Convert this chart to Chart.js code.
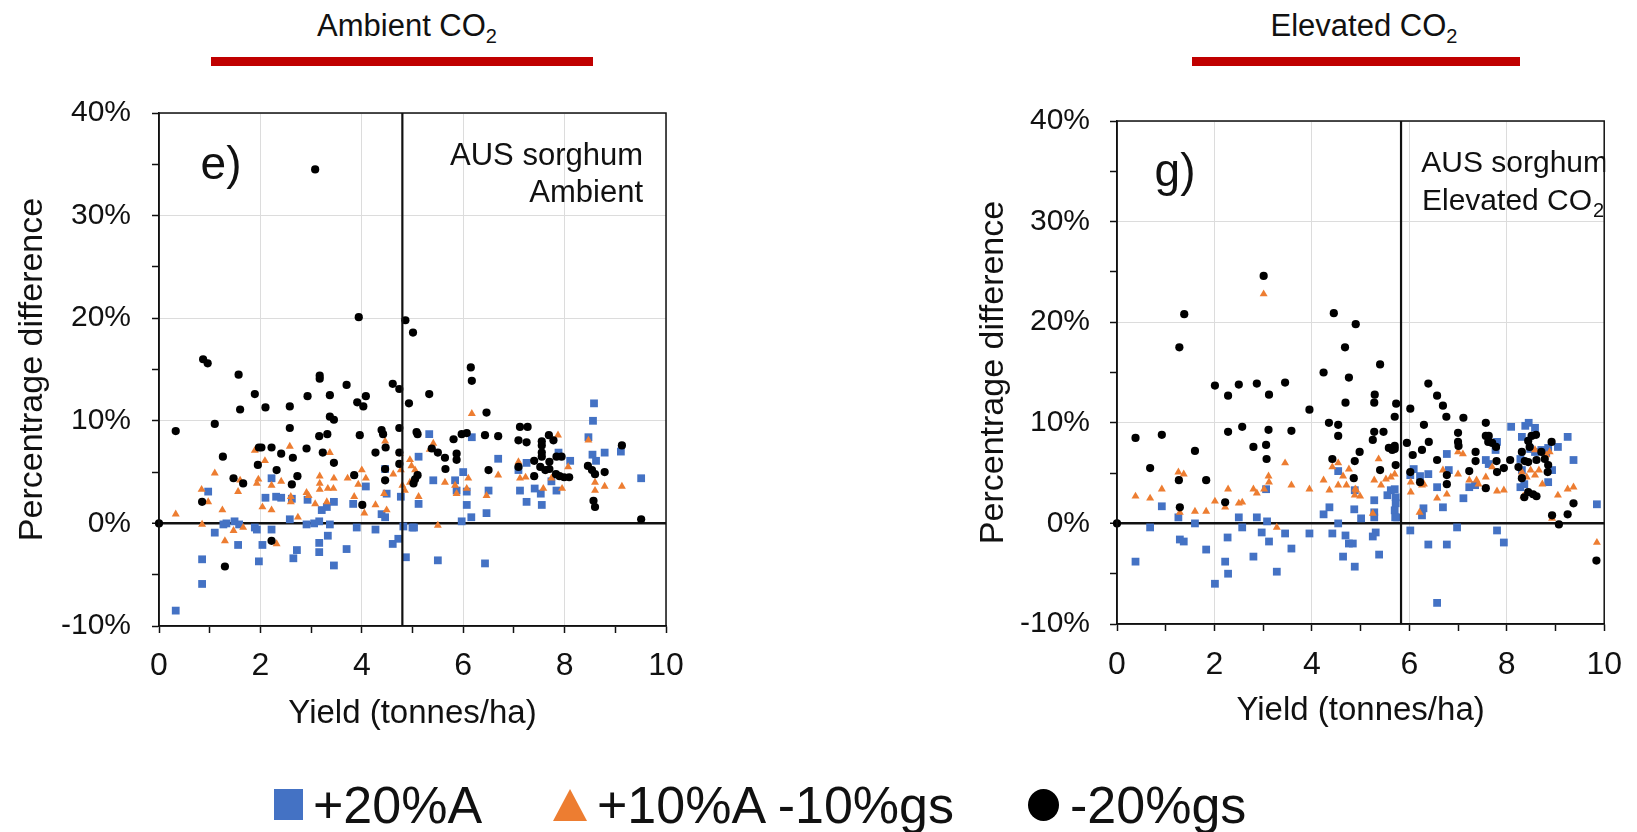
<!DOCTYPE html>
<html>
<head>
<meta charset="utf-8">
<script src="https://cdn.jsdelivr.net/npm/chart.js@4/dist/chart.umd.min.js"></script>
<style>
  body { margin: 0; background: #fff; font-family: "Liberation Sans", Arial, sans-serif; color: #111; }
  #page { position: relative; width: 1637px; height: 832px; overflow: hidden; }
  canvas { position: absolute; top: 0; }
  #ambientChart { left: 0; }
  #elevatedChart { left: 940px; }
  .title { position: absolute; top: 6px; font-size: 31px; line-height: 40px; transform: translateX(-50%); white-space: nowrap; }
  .title sub { font-size: 20px; line-height: 0; vertical-align: -7px; }
  .redbar { position: absolute; top: 57px; height: 9px; background: #c00000; }
  .legend-text { position: absolute; top: 775px; font-size: 52px; line-height: 60px; white-space: nowrap; }
  .mark { position: absolute; top: 789px; }
</style>
</head>
<body>
<div id="page">
  <div class="title" style="left:407px">Ambient CO<sub>2</sub></div>
  <div class="redbar" style="left:211px; width:382px"></div>
  <div class="title" style="left:1364px">Elevated CO<sub>2</sub></div>
  <div class="redbar" style="left:1192px; width:328px"></div>

  <canvas id="ambientChart" width="700" height="760"></canvas>
  <canvas id="elevatedChart" width="697" height="760"></canvas>

  <div class="mark" style="left:274px; width:29px; height:31px; background:#4472c4"></div>
  <div class="legend-text" style="left:313px">+20%A</div>
  <div class="mark" style="left:553px; width:0; height:0; border-left:17px solid transparent; border-right:17px solid transparent; border-bottom:32px solid #ed7d31"></div>
  <div class="legend-text" style="left:597px">+10%A -10%gs</div>
  <div class="mark" style="left:1028px; width:31px; height:32px; border-radius:50%; background:#000"></div>
  <div class="legend-text" style="left:1070px">-20%gs</div>
</div>

<script>
// yield (t/ha), percentage difference
const ambientA20 = [
  [0.33,-8.5],[0.85,-3.5],[0.85,-5.9],[0.97,3.1],[1.10,-0.9],[1.27,-0.1],[1.33,0.0],[1.49,0.2],[1.58,-0.1],
  [1.56,-2.1],[1.89,-0.4],[1.93,-0.6],[1.97,-3.7],[2.04,-2.1],[2.10,2.5],[2.22,4.4],[2.22,-0.6],[2.31,2.6],
  [2.41,2.5],[2.58,0.4],[2.62,2.4],[2.65,-3.4],[2.72,-2.6],[2.91,-0.1],[2.93,2.3],[3.06,0.0],[3.16,0.2],
  [3.16,-1.9],[3.16,-2.8],[3.21,1.3],[3.31,1.6],[3.33,-1.2],[3.37,-0.1],[3.45,-4.1],[3.45,2.1],[3.70,-2.5],
  [3.83,1.9],[3.90,-0.4],[4.08,3.6],[4.27,-0.6],[4.39,0.9],[4.46,0.6],[4.46,5.3],[4.49,2.9],[4.61,-2.0],
  [4.72,-1.5],[4.77,2.6],[4.82,-0.3],[4.87,-3.3],[5.00,-0.4],[5.03,-0.4],[5.12,6.5],[5.12,1.9],[5.33,8.7],
  [5.41,4.2],[5.50,-3.6],[5.84,4.2],[5.87,3.2],[6.00,5.0],[6.07,3.1],[6.07,1.8],[6.16,0.6],[5.97,0.2],
  [6.17,8.4],[6.43,-3.9],[6.46,1.0],[6.50,3.2],[6.69,6.3],[7.09,5.2],[7.12,3.2],[7.25,5.9],[7.25,2.1],
  [7.41,3.4],[7.53,2.9],[7.55,1.8],[7.74,4.1],[7.84,3.2],[7.88,6.9],[8.11,6.1],[8.47,8.4],[8.55,6.7],
  [8.56,10.0],[8.58,11.7],[8.62,6.1],[8.79,6.9],[9.11,7.0],[9.51,4.4]
];
const ambientA10gs10 = [
  [0.33,0.9],[0.84,3.3],[0.85,-0.1],[0.97,2.1],[1.10,4.9],[1.25,1.3],[1.30,-1.7],[1.47,-0.7],[1.56,3.1],
  [1.60,4.2],[1.66,-0.4],[1.89,7.1],[1.93,3.9],[1.96,4.3],[2.04,1.6],[2.09,6.1],[2.22,1.3],[2.22,3.7],
  [2.32,-2.0],[2.41,4.1],[2.58,7.5],[2.60,2.1],[2.60,2.6],[2.74,0.6],[2.91,3.0],[2.95,2.7],[3.08,1.9],
  [3.17,4.6],[3.17,3.9],[3.17,3.3],[3.31,2.1],[3.33,3.4],[3.37,6.9],[3.44,3.4],[3.45,4.4],[3.72,4.4],
  [3.85,2.6],[3.93,3.8],[4.00,5.2],[4.05,1.0],[4.08,4.4],[4.27,1.8],[4.44,2.9],[4.46,8.0],[4.49,1.3],
  [4.62,4.8],[4.75,6.8],[4.77,5.2],[4.80,3.7],[4.85,3.2],[4.95,4.0],[4.98,5.6],[4.95,6.2],[5.05,5.2],
  [5.12,2.6],[5.34,7.2],[5.41,7.8],[5.50,-0.2],[5.64,4.0],[5.84,3.7],[5.87,2.9],[6.07,3.4],[6.10,4.4],
  [6.17,10.7],[6.46,2.7],[6.69,4.7],[7.09,6.0],[7.12,4.4],[7.23,4.5],[7.58,3.4],[7.74,4.4],[7.87,8.6],
  [7.95,3.4],[8.07,5.5],[8.47,8.1],[8.60,4.0],[8.60,3.2],[8.79,3.6],[9.13,3.6]
];
const ambientGs20 = [
  [0.00,0.0],[0.33,9.0],[0.87,16.0],[0.96,15.6],[0.85,2.1],[1.10,9.7],[1.26,6.5],[1.30,-4.2],[1.47,4.4],
  [1.57,14.5],[1.60,11.1],[1.66,3.9],[1.89,12.6],[1.95,5.7],[1.97,7.4],[2.02,7.4],[2.10,11.3],[2.22,7.4],
  [2.22,-1.7],[2.32,5.2],[2.41,6.8],[2.58,11.4],[2.58,9.3],[2.62,3.8],[2.64,6.4],[2.73,4.6],[2.91,7.3],
  [2.93,12.4],[3.08,34.5],[3.17,14.4],[3.17,14.1],[3.16,8.5],[3.23,6.9],[3.32,8.7],[3.37,12.5],[3.37,10.4],
  [3.45,10.1],[3.45,5.9],[3.70,13.5],[3.85,4.7],[3.91,11.8],[3.94,20.1],[3.96,8.6],[4.01,1.8],[4.03,11.4],
  [4.08,12.4],[4.27,6.9],[4.39,9.1],[4.42,8.7],[4.46,5.3],[4.46,4.2],[4.47,7.4],[4.61,13.6],[4.74,13.1],
  [4.74,9.3],[4.74,6.9],[4.74,5.8],[4.86,19.8],[4.93,11.7],[5.01,18.6],[5.08,8.9],[5.10,8.7],[5.05,4.3],
  [5.10,4.7],[5.02,3.9],[5.33,12.6],[5.38,7.3],[5.50,6.9],[5.64,6.4],[5.65,5.3],[5.81,8.2],[5.87,6.2],
  [5.87,6.8],[5.97,8.7],[6.07,8.8],[6.15,15.2],[6.17,13.9],[6.43,8.6],[6.46,10.8],[6.50,5.2],[6.69,8.5],
  [7.09,8.1],[7.09,5.5],[7.12,9.4],[7.27,9.4],[7.25,7.9],[7.40,6.1],[7.40,4.6],[7.52,5.5],[7.55,8.0],
  [7.55,7.6],[7.55,6.9],[7.55,6.5],[7.62,5.2],[7.69,8.6],[7.70,6.0],[7.70,5.3],[7.78,8.1],[7.84,6.5],
  [7.94,6.5],[7.83,4.8],[7.90,4.6],[7.99,4.5],[8.09,4.5],[8.46,5.6],[8.54,5.2],[8.60,4.8],[8.57,2.2],
  [8.60,1.6],[8.79,5.0],[9.13,7.6],[9.51,0.4]
];

const elevatedA20 = [
  [0.38,-3.8],[0.68,-0.4],[0.92,1.7],[1.26,0.6],[1.29,-1.6],[1.37,-1.8],[1.60,0.0],[1.83,-2.6],[2.01,-6.0],
  [2.22,-3.8],[2.27,-1.4],[2.28,-5.0],[2.50,0.6],[2.57,-0.4],[2.80,-3.3],[2.87,0.6],[2.97,-0.9],[3.06,3.4],
  [3.08,0.2],[3.12,-1.8],[3.28,-4.8],[3.45,-1.0],[3.58,-2.5],[3.95,-1.0],[4.24,0.9],[4.36,1.6],[4.42,-1.0],
  [4.54,0.0],[4.54,5.2],[4.64,-3.3],[4.69,-1.2],[4.76,-2.0],[4.87,1.4],[4.88,-4.3],[4.88,3.3],[4.84,-2.0],
  [5.01,0.5],[5.25,-1.3],[5.28,2.3],[5.28,1.1],[5.28,0.6],[5.31,-0.9],[5.38,-3.1],[5.55,2.8],[5.62,3.3],
  [5.70,3.4],[5.72,2.6],[5.72,2.0],[5.70,1.3],[5.71,0.6],[5.75,0.6],[6.02,-0.7],[6.02,4.8],[6.09,5.4],
  [6.22,4.7],[6.26,0.8],[6.29,1.5],[6.39,4.9],[6.39,-2.1],[6.57,3.6],[6.57,-7.9],[6.69,1.6],[6.77,6.9],
  [6.77,-2.1],[6.81,5.3],[6.98,-0.4],[7.11,2.5],[7.23,3.6],[7.35,3.8],[7.57,6.3],[7.63,5.9],[7.77,7.3],
  [7.80,8.1],[7.80,-0.7],[7.94,-1.9],[8.09,9.6],[8.28,6.4],[8.31,8.6],[8.38,9.7],[8.45,10.0],[8.58,9.5],
  [8.31,5.3],[8.28,3.6],[8.36,3.9],[8.48,7.4],[8.58,7.1],[8.71,7.3],[8.81,7.0],[8.85,7.5],[8.85,4.1],
  [8.93,5.3],[9.05,7.6],[9.25,8.6],[9.37,6.3],[9.85,1.9]
];
const elevatedA10gs10 = [
  [0.38,2.7],[0.68,2.5],[0.92,3.4],[1.26,5.1],[1.37,4.9],[1.29,1.1],[1.60,1.2],[1.83,1.2],[2.01,2.2],
  [2.22,1.6],[2.28,3.4],[2.50,2.0],[2.57,2.1],[2.80,3.4],[2.87,3.0],[3.01,22.8],[3.02,3.4],[3.11,4.7],
  [3.12,4.1],[3.28,-0.4],[3.45,6.0],[3.58,3.8],[3.95,3.4],[4.24,4.3],[4.36,3.3],[4.42,5.6],[4.54,6.0],
  [4.54,3.8],[4.64,4.7],[4.71,3.8],[4.76,5.4],[4.88,2.8],[4.89,3.4],[4.91,3.3],[4.99,2.7],[5.25,1.0],
  [5.28,4.3],[5.37,6.4],[5.42,3.8],[5.52,4.4],[5.62,4.6],[5.70,4.9],[6.03,4.1],[6.03,3.1],[6.21,1.1],
  [6.26,3.8],[6.30,3.9],[6.57,2.5],[6.69,5.3],[6.77,2.9],[7.00,7.1],[7.10,6.9],[7.00,4.9],[7.23,4.3],
  [7.38,4.3],[7.42,3.9],[7.57,4.6],[7.70,5.6],[7.80,3.2],[7.94,3.3],[8.31,5.1],[8.34,2.7],[8.41,4.6],
  [8.49,5.3],[8.58,7.3],[8.58,4.8],[8.66,5.3],[8.73,3.9],[8.81,6.8],[8.88,7.1],[8.93,0.5],[9.05,2.8],
  [9.25,3.4],[9.37,3.6],[9.85,-1.9]
];
const elevatedGs20 = [
  [0.00,0.0],[0.38,8.5],[0.68,5.5],[0.92,8.8],[1.27,4.3],[1.28,17.5],[1.29,1.6],[1.38,20.8],[1.60,7.2],
  [1.83,4.3],[2.01,13.7],[2.22,2.1],[2.28,12.7],[2.28,9.1],[2.50,13.8],[2.57,9.6],[2.80,7.6],[2.87,13.9],
  [3.01,24.6],[3.06,7.8],[3.07,6.4],[3.11,9.3],[3.12,12.8],[3.45,14.0],[3.58,9.2],[3.95,11.3],[4.24,15.0],
  [4.35,10.0],[4.42,6.4],[4.45,20.9],[4.54,9.8],[4.54,8.7],[4.68,17.5],[4.69,12.0],[4.76,14.5],[4.86,4.5],
  [4.88,6.2],[4.90,19.8],[4.98,7.1],[5.25,8.3],[5.28,9.1],[5.28,12.0],[5.29,12.8],[5.40,15.8],[5.40,5.3],
  [5.47,9.1],[5.58,7.5],[5.65,7.3],[5.70,7.7],[5.70,7.4],[5.70,10.6],[5.72,5.8],[5.73,11.9],[6.02,11.4],
  [5.95,8.0],[6.02,5.1],[6.07,6.8],[6.22,4.1],[6.26,7.3],[6.30,9.8],[6.39,13.9],[6.40,8.1],[6.57,12.7],
  [6.57,6.3],[6.69,11.7],[6.76,10.6],[6.77,4.8],[6.77,3.9],[7.00,9.0],[7.00,8.1],[7.01,7.7],[7.11,10.5],
  [7.23,5.2],[7.36,7.1],[7.36,6.2],[7.57,10.0],[7.57,8.7],[7.62,8.1],[7.63,8.7],[7.70,8.0],[7.78,7.6],
  [7.79,6.2],[7.80,5.1],[7.57,3.5],[7.94,5.5],[8.07,6.3],[8.31,7.1],[8.44,8.2],[8.51,8.7],[8.60,8.8],
  [8.47,7.6],[8.24,5.6],[8.31,4.5],[8.37,6.2],[8.36,2.6],[8.44,3.1],[8.54,2.9],[8.61,2.7],[8.44,6.1],
  [8.61,6.3],[8.71,7.1],[8.78,6.4],[8.85,5.8],[8.84,5.1],[8.92,8.1],[8.93,0.8],[9.07,-0.1],[9.25,0.9],
  [9.37,2.0],[9.84,-3.7]
];

// mean yield lines
const ambientCut = 4.8;
const elevatedCut = 5.83;

const seriesLabels = ["+20%A", "+10%A -10%gs", "-20%gs"];
const BLUE = "#4472c4";
const ORANGE = "#ed7d31";
const GRID = "#dcdcdc";
const FONT = '"Liberation Sans", Arial, sans-serif';
const CLEAR = "rgba(0,0,0,0)";

const toXY = (pairs) => pairs.map((p) => ({ x: p[0], y: p[1] }));

// black box round the plot area
const frame = {
  id: "frame",
  afterDatasetsDraw(chart) {
    const { ctx, chartArea: a } = chart;
    ctx.save();
    ctx.strokeStyle = "#111";
    ctx.lineWidth = 1.5;
    ctx.strokeRect(a.left, a.top, a.width, a.height);
    ctx.restore();
  },
};

// panel letter and the crop label in the corner
const panelText = {
  id: "panelText",
  afterDraw(chart, args, opts) {
    const { ctx, chartArea: a } = chart;
    ctx.save();
    ctx.beginPath();
    ctx.rect(a.left, a.top, a.width + 1, a.height);
    ctx.clip();
    ctx.fillStyle = "#111";
    ctx.textBaseline = "middle";
    ctx.textAlign = "left";
    opts.items.forEach((it) => {
      ctx.font = it.size + "px " + FONT;
      const w = ctx.measureText(it.text).width;
      const subSize = Math.round(it.size * 0.65);
      ctx.font = subSize + "px " + FONT;
      const sw = it.sub ? ctx.measureText(it.sub).width + 1 : 0;
      let x = a.left + it.x;
      if (it.align === "right") x -= w + sw;
      if (it.align === "center") x -= (w + sw) / 2;
      ctx.font = it.size + "px " + FONT;
      ctx.fillText(it.text, x, a.top + it.y);
      if (it.sub) {
        ctx.font = subSize + "px " + FONT;
        ctx.fillText(it.sub, x + w + 1, a.top + it.y + it.size * 0.3);
      }
    });
    ctx.restore();
  },
};

function makeChart(id, cfg) {
  const ctx = document.getElementById(id).getContext("2d");
  return new Chart(ctx, {
    type: "scatter",
    data: {
      datasets: [
        { label: seriesLabels[0], data: toXY(cfg.blue), pointStyle: "rect", pointRadius: 5.5,
          backgroundColor: BLUE, borderColor: BLUE, borderWidth: 0, clip: false, order: 3 },
        { label: seriesLabels[1], data: toXY(cfg.orange), pointStyle: "triangle", pointRadius: 4.6,
          backgroundColor: ORANGE, borderColor: ORANGE, borderWidth: 0, clip: false, order: 2 },
        { label: seriesLabels[2], data: toXY(cfg.black), pointStyle: "circle", pointRadius: 4.1,
          backgroundColor: "#000", borderColor: "#000", borderWidth: 0, clip: false, order: 1 },
        { type: "line", label: "cut", data: [{ x: cfg.cut, y: -10 }, { x: cfg.cut, y: 40 }],
          borderColor: "#111", borderWidth: 2.2, pointRadius: 0, order: 0 },
      ],
    },
    options: {
      responsive: false,
      animation: false,
      events: [],
      layout: { padding: cfg.pad },
      plugins: {
        legend: { display: false },
        tooltip: { enabled: false },
        panelText: { items: cfg.items },
      },
      scales: {
        x: {
          type: "linear",
          min: 0,
          max: 10,
          afterFit: (s) => { s.height = cfg.xAxisH; },
          border: { color: "#111", width: 1.5 },
          grid: {
            color: (c) => (c.tick && c.tick.value % 2 === 0 ? GRID : CLEAR),
            tickColor: "#111",
            tickLength: 7,
            tickWidth: 1.5,
          },
          ticks: {
            stepSize: 1,
            autoSkip: false,
            maxRotation: 0,
            padding: cfg.xTickPad,
            color: "#111",
            font: { family: FONT, size: 32 },
            callback: (v) => (v % 2 === 0 ? v : ""),
          },
          title: {
            display: true,
            text: "Yield (tonnes/ha)",
            color: "#111",
            font: { family: FONT, size: 33, lineHeight: 1 },
            padding: { top: 0, bottom: cfg.xTitlePad },
          },
        },
        y: {
          min: -10,
          max: 40,
          afterFit: (s) => { s.width = cfg.yAxisW; },
          border: { color: "#111", width: 1.5 },
          grid: {
            color: (c) => {
              const v = c.tick ? c.tick.value : 1;
              if (v === 0) return "#111";
              return v % 10 === 0 ? GRID : CLEAR;
            },
            lineWidth: (c) => (c.tick && c.tick.value === 0 ? 2.5 : 1),
            tickColor: "#111",
            tickLength: 7,
            tickWidth: 1.5,
          },
          ticks: {
            stepSize: 5,
            padding: cfg.yTickPad,
            color: "#111",
            font: { family: FONT, size: 30 },
            callback: (v) => (v % 10 === 0 ? v + "%" : ""),
          },
          title: {
            display: true,
            text: "Percentrage difference",
            color: "#111",
            font: { family: FONT, size: 34, lineHeight: 1 },
            padding: { top: cfg.yTitlePad, bottom: 0 },
          },
        },
      },
    },
    plugins: [frame, panelText],
  });
}

document.addEventListener("DOMContentLoaded", () => {
  makeChart("ambientChart", {
    blue: ambientA20, orange: ambientA10gs10, black: ambientGs20, cut: ambientCut,
    pad: { top: 113, right: 34, bottom: 0, left: 0 },
    yAxisW: 159, xAxisH: 134, xTickPad: 14, yTickPad: 21, xTitlePad: 30, yTitlePad: 16,
    items: [
      { text: "e)", x: 62, y: 53, align: "center", size: 46 },
      { text: "AUS sorghum", x: 484, y: 43, align: "right", size: 31 },
      { text: "Ambient", x: 484, y: 80, align: "right", size: 31 },
    ],
  });
  makeChart("elevatedChart", {
    blue: elevatedA20, orange: elevatedA10gs10, black: elevatedGs20, cut: elevatedCut,
    pad: { top: 121, right: 25, bottom: 0, left: 0 },
    yAxisW: 177, xAxisH: 136, xTickPad: 15, yTickPad: 20, xTitlePad: 33, yTitlePad: 37,
    items: [
      { text: "g)", x: 58, y: 52, align: "center", size: 46 },
      { text: "AUS sorghum", x: 491, align: "right", y: 43, size: 30 },
      { text: "Elevated CO", sub: "2", x: 305, y: 81, align: "left", size: 30 },
    ],
  });
});
</script>
</body>
</html>
